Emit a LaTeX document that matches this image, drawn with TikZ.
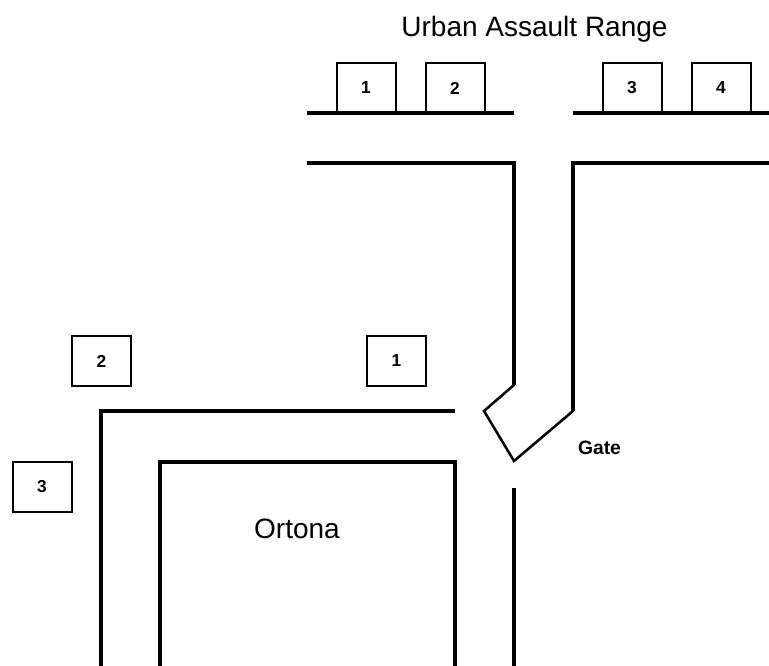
\documentclass[tikz,border=0pt]{standalone}
\usepackage{fontspec}
\setmainfont{Liberation Sans}
\tikzset{
  x=0.75pt,y=-0.75pt,
  numbox/.style={draw=black,line width=1.5pt,minimum width=44.25pt,minimum height=37pt,inner sep=0pt,font=\fontsize{13}{15}\selectfont\bfseries,anchor=center},
  road/.style={draw=black,line width=2.4pt,line cap=butt,line join=miter},
  roadthin/.style={draw=black,line width=1.9pt,line cap=round,line join=miter},
  lbl/.style={inner sep=0pt,anchor=center}
}
\begin{document}
\begin{tikzpicture}
\useasboundingbox (0,0) rectangle (769,666);
% upper range
\node[numbox] (u1) at (366,88) {1};
\node[numbox] (u2) at (455,88) {2};
\node[numbox] (u3) at (632,88) {3};
\node[numbox] (u4) at (721,88) {4};
\draw[road] (307,113) -- (514,113);
\draw[road] (573,113) -- (769,113);
\draw[road] (307,163) -- (514,163) -- (514,385);
\draw[road] (769,163) -- (573,163) -- (573,411);
\draw[roadthin] (514,385) -- (484,411) -- (514,461) -- (573,411);
% Ortona
\node[numbox] (o1) at (396.5,361) {1};
\node[numbox] (o2) at (101.5,361) {2};
\node[numbox] (o3) at (42,487) {3};
\draw[road] (455,411) -- (101,411) -- (101,666);
\draw[road] (160,666) -- (160,462) -- (455,462) -- (455,666);
\draw[road] (514,488) -- (514,666);
% labels
\node[lbl,font=\fontsize{21}{24}\selectfont] (title) at (534.5,29) {Urban Assault Range};
\node[lbl,font=\fontsize{21}{24}\selectfont] (ortona) at (297,529) {Ortona};
\node[lbl,font=\fontsize{14.5}{16}\selectfont\bfseries] (gate) at (599.5,448) {Gate};
\end{tikzpicture}
\end{document}
